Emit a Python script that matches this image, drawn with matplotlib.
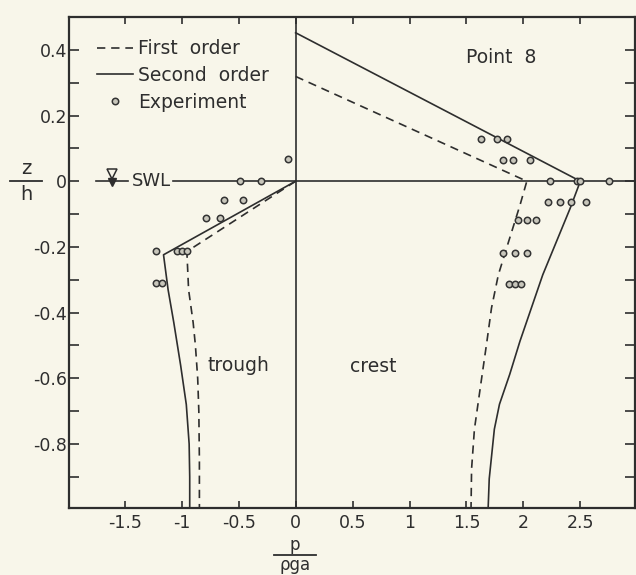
import matplotlib
matplotlib.use("Agg")
import matplotlib.pyplot as plt
from matplotlib.lines import Line2D

plt.rcParams['font.family'] = ['DejaVu Sans']
plt.rcParams['axes.unicode_minus'] = False

# ---------------- data ----------------
# Crest, first order (dashed)
crest1_p = [0.0, 2.03, 1.97, 1.87, 1.78, 1.72, 1.68, 1.63, 1.57, 1.545, 1.54]
crest1_z = [0.319, 0.0, -0.073, -0.184, -0.285, -0.386, -0.487, -0.608, -0.755, -0.876, -1.0]
# Crest, second order (solid)
crest2_p = [0.0, 2.50, 2.41, 2.29, 2.17, 2.07, 1.97, 1.88, 1.79, 1.745, 1.70, 1.69]
crest2_z = [0.452, 0.0, -0.083, -0.184, -0.285, -0.386, -0.487, -0.588, -0.679, -0.755, -0.906, -1.0]
# Trough, first order (dashed)
trough1_p = [0.0, -0.955, -0.94, -0.90, -0.88, -0.86, -0.85, -0.845, -0.845]
trough1_z = [0.0, -0.214, -0.33, -0.43, -0.50, -0.60, -0.70, -0.85, -1.0]
# Trough, second order (solid)
trough2_p = [0.0, -1.16, -1.12, -1.07, -1.01, -0.96, -0.935, -0.93, -0.93]
trough2_z = [0.0, -0.224, -0.33, -0.43, -0.56, -0.68, -0.80, -0.90, -1.0]
# Experiment
exp_p = [-0.07, -0.49, -0.30, -0.63, -0.46, -0.79, -0.66,
         -1.23, -1.04, -1.00, -0.95, -1.23, -1.17,
         1.63, 1.77, 1.86, 1.82, 1.91, 2.06,
         2.23, 2.47, 2.50, 2.75,
         2.22, 2.32, 2.42, 2.55,
         1.95, 2.03, 2.11,
         1.82, 1.93, 2.03,
         1.87, 1.93, 1.98]
exp_z = [0.067, 0.0, 0.0, -0.058, -0.058, -0.113, -0.113,
         -0.212, -0.212, -0.212, -0.212, -0.31, -0.31,
         0.129, 0.129, 0.129, 0.064, 0.064, 0.064,
         0.0, 0.0, 0.0, 0.0,
         -0.062, -0.062, -0.062, -0.062,
         -0.118, -0.118, -0.118,
         -0.218, -0.218, -0.218,
         -0.312, -0.312, -0.312]

xtick_vals = [-1.5, -1, -0.5, 0, 0.5, 1, 1.5, 2, 2.5]
xtick_labels = ["-1.5", "-1", "-0.5", "0", "0.5", "1", "1.5", "2", "2.5"]
ytick_vals = [0.4, 0.2, 0, -0.2, -0.4, -0.6, -0.8]
ytick_labels = ["0.4", "0.2", "0", "-0.2", "-0.4", "-0.6", "-0.8"]
yminor_vals = [0.3, 0.1, -0.1, -0.3, -0.5, -0.7, -0.9]
swl_level = 0.0

# ---------------- style ----------------
BG = '#f8f6ea'
INK = '#2e2e2e'
LW = 1.2
DASH = (0, (5, 3.5))

fig = plt.figure(figsize=(6.36, 5.75), dpi=100, facecolor=BG)
ax = fig.add_axes([69/636, 1-508/575, (635-69)/636, (508-17)/575])
ax.set_facecolor(BG)
ax.set_xlim(-1.99, 2.98)
ax.set_ylim(-0.995, 0.5)

for s in ax.spines.values():
    s.set_linewidth(1.6)
    s.set_color(INK)

ax.set_xticks(xtick_vals)
ax.set_xticklabels(xtick_labels)
ax.set_yticks(ytick_vals)
ax.set_yticklabels(ytick_labels)
ax.set_yticks(yminor_vals, minor=True)
ax.tick_params(axis='x', which='both', direction='in', top=True, bottom=True,
               length=5, width=1.2, pad=4.5, labelsize=12.5, colors=INK)
ax.tick_params(axis='y', which='both', direction='in', left=True, right=True,
               length=7.5, width=1.2, pad=1.5, labelsize=12.5, colors=INK)

# reference lines
ax.axvline(0, color=INK, lw=LW)
ax.plot([-1.75, -1.47], [swl_level, swl_level], color=INK, lw=LW)
ax.plot([-1.08, 2.98], [swl_level, swl_level], color=INK, lw=LW)
ax.plot([-1.61], [swl_level + 0.022], marker='v', ms=7, mfc=BG, mec=INK, mew=1.1)
ax.plot([-1.61], [swl_level - 0.002], marker='v', ms=6, mfc=INK, mec=INK)
ax.text(-1.44, swl_level, "SWL", fontsize=13, color=INK, va='center', ha='left')

# curves
ax.plot(crest1_p, crest1_z, color=INK, lw=LW, linestyle=DASH)
ax.plot(trough1_p, trough1_z, color=INK, lw=LW, linestyle=DASH)
ax.plot(crest2_p, crest2_z, color=INK, lw=LW)
ax.plot(trough2_p, trough2_z, color=INK, lw=LW)
ax.plot(exp_p, exp_z, linestyle='none', marker='o', ms=4.6,
        mfc='#c8c6bb', mec='#333333', mew=1.1)

# legend
handles = [Line2D([], [], color=INK, lw=LW, linestyle=DASH),
           Line2D([], [], color=INK, lw=LW),
           Line2D([], [], linestyle='none', marker='o', ms=4.6,
                  mfc='#c8c6bb', mec='#333333', mew=1.1)]
leg = ax.legend(handles, ["First  order", "Second  order", "Experiment"],
                loc='upper left', bbox_to_anchor=(0.049, 0.955), frameon=False,
                borderpad=0, borderaxespad=0, handlelength=1.95,
                handletextpad=0.25, labelspacing=0.42, numpoints=1,
                prop={'size': 13.5})
for t in leg.get_texts():
    t.set_color(INK)

ax.text(1.50, 0.376, "Point  8", fontsize=13.5, color=INK, va='center', ha='left')
ax.text(-0.77, -0.56, "trough", fontsize=13.5, color=INK, va='center', ha='left')
ax.text(0.48, -0.565, "crest", fontsize=13.5, color=INK, va='center', ha='left')

# axis labels as stacked fractions
fig.text(26/636, 1-168/575, "z", fontsize=14, color=INK, ha='center', va='center')
fig.text(26/636, 1-194/575, "h", fontsize=14, color=INK, ha='center', va='center')
fig.add_artist(Line2D([10/636, 42/636], [1-181/575, 1-181/575], color=INK, lw=1.3))
fig.text(295/636, 1-544.5/575, "p", fontsize=12, color=INK, ha='center', va='center')
fig.text(295/636, 1-565/575, "ρga", fontsize=12, color=INK, ha='center', va='center')
fig.add_artist(Line2D([274/636, 316/636], [1-554.5/575, 1-554.5/575], color=INK, lw=1.3))

fig.savefig("out.png", dpi=100, facecolor=BG)
